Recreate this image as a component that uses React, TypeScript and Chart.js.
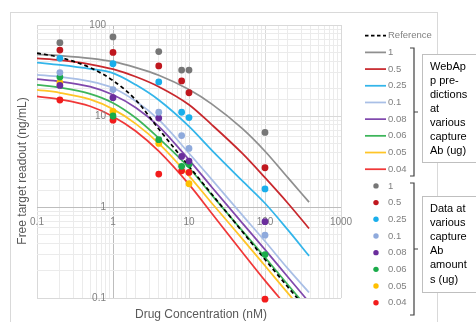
import React, { useEffect, useRef } from "react";
import { Chart, registerables } from "chart.js";

Chart.register(...registerables);

// ---- Data ----
const lineX = [0.1, 0.2, 0.5, 1, 2, 4, 10, 20, 50, 100, 200, 380];
const refLine = [49, 44, 34, 24.5, 15, 7.2, 2.8, 1.38, 0.54, 0.265, 0.132, 0.07];
const line1 = [47.7, 46, 43, 39.5, 34, 28, 19.5, 13.5, 7.3, 4.1, 2.1, 1.13];
const line05 = [43, 41, 37, 32.7, 27, 21, 13.3, 8, 3.9, 2.1, 1.1, 0.58];
const line025 = [38.7, 36.5, 33, 29.6, 22, 15, 7.7, 4.2, 1.95, 1.1, 0.56, 0.29];
const line01 = [28.4, 27, 24, 20.3, 14.5, 9.1, 3.9, 2.0, 0.82, 0.42, 0.21, 0.115];
const line008 = [25.4, 24, 21, 17.1, 12.3, 7.7, 3.3, 1.65, 0.67, 0.34, 0.17, 0.09];
const line006 = [22, 20.5, 17.5, 13.9, 9.5, 5.7, 2.7, 1.35, 0.55, 0.28, 0.14, 0.074];
const line005 = [19.4, 18, 15.2, 11.9, 8.2, 5.0, 2.2, 1.1, 0.45, 0.226, 0.113, 0.06];
const line004 = [16.4, 15.2, 12.8, 9.9, 6.8, 4.1, 1.77, 0.85, 0.32, 0.155, 0.078, 0.041];

const dataX = [0.2, 1, 4, 8, 10, 100];
const pts1 = [64, 74, 51, 32, 32, 6.6];
const pts05 = [53, 50, 35.5, 24.3, 18, 2.7];
const pts025 = [43, 37.5, 23.7, 11, 9.6, 1.58];
const pts01 = [30, 19.5, 11, 6.1, 4.4, 0.49];
const pts008 = [21.7, 15.9, 9.5, 3.6, 3.2, 0.69];
const pts006 = [26.8, 10, 5.5, 2.8, 2.95, 0.3];
const pts005: (number | null)[] = [23.3, 11.2, 5.0, null, 1.8, null];
const pts004 = [15, 9, 2.3, 2.5, 2.4, 0.097];

const yTickValues = [0.1, 1, 10, 100];
const yTickLabels = ["0.1", "1", "10", "100"];

const seriesLabels = ["1", "0.5", "0.25", "0.1", "0.08", "0.06", "0.05", "0.04"];
const lineColors = ["#8f8f8f", "#c8282d", "#33b5ea", "#a9bfe6", "#8049ad", "#3db55a", "#ffc527", "#f03838"];
const pointColors = ["#767676", "#c0171e", "#1aaeeb", "#8faadc", "#6a2d9c", "#1aab4a", "#ffc000", "#f21c1c"];
const lineSeries = [line1, line05, line025, line01, line008, line006, line005, line004];
const pointSeries = [pts1, pts05, pts025, pts01, pts008, pts006, pts005, pts004];

const xTitle = "Drug Concentration (nM)";
const yTitle = "Free target readout (ng/mL)";
const box1Lines = ["WebAp", "p pre-", "dictions", "at", "various", "capture", "Ab (ug)"];
const box2Lines = ["Data at", "various", "capture", "Ab", "amount", "s (ug)"];

const FONT = "'Liberation Sans', Arial, sans-serif";

const toXY = (xs: number[], ys: (number | null)[]) =>
  xs.map((x, i) => ({ x, y: ys[i] })).filter((p) => p.y !== null) as { x: number; y: number }[];

const isPow10 = (v: number) => {
  const l = Math.log10(v);
  return Math.abs(l - Math.round(l)) < 1e-9;
};

const gridColor = (c: any) => {
  const v = c.tick ? c.tick.value : null;
  if (v == null) return "#ebebeb";
  if (Math.abs(Math.log10(v)) < 1e-9) return "#bdbdbd";
  if (isPow10(v)) return "#d9d9d9";
  return "#ebebeb";
};

const tickLabel = (v: any) => {
  const n = Number(v);
  if (!isPow10(n)) return "";
  if (n < 1) return "0.1";
  return String(Math.round(n));
};

const decor = {
  id: "decor",
  beforeDraw(chart: any) {
    const ctx = chart.ctx;
    ctx.save();
    ctx.fillStyle = "#ffffff";
    ctx.fillRect(0, 0, chart.width, chart.height);
    ctx.strokeStyle = "#d9d9d9";
    ctx.lineWidth = 1;
    ctx.strokeRect(10.5, 12.5, 427, 330);
    ctx.restore();
  },
  afterDraw(chart: any) {
    const ctx = chart.ctx;
    const xs = chart.scales.x;
    const ys = chart.scales.y;
    ctx.save();
    // y tick labels, placed left of the x = 1 axis line
    ctx.fillStyle = "#808080";
    ctx.font = `10px ${FONT}`;
    ctx.textAlign = "right";
    ctx.textBaseline = "middle";
    const axisX = xs.getPixelForValue(1);
    yTickValues.forEach((v, i) => ctx.fillText(yTickLabels[i], axisX - 7, ys.getPixelForValue(v)));

    // axis titles
    ctx.fillStyle = "#595959";
    ctx.font = `12px ${FONT}`;
    ctx.textAlign = "center";
    ctx.textBaseline = "middle";
    ctx.fillText(xTitle, 201, 315);
    ctx.save();
    ctx.translate(23, 171);
    ctx.rotate(-Math.PI / 2);
    ctx.fillText(yTitle, 0, 0);
    ctx.restore();

    // legend
    const y0 = 35.7;
    const step = 16.69;
    ctx.font = `9.5px ${FONT}`;
    ctx.textAlign = "left";
    ctx.textBaseline = "middle";
    ctx.strokeStyle = "#000000";
    ctx.lineWidth = 1.75;
    ctx.setLineDash([3.5, 2.5]);
    ctx.beginPath();
    ctx.moveTo(365, y0);
    ctx.lineTo(386, y0);
    ctx.stroke();
    ctx.setLineDash([]);
    ctx.fillStyle = "#808080";
    ctx.fillText("Reference", 388, y0);
    seriesLabels.forEach((lab, i) => {
      const y = y0 + step * (i + 1);
      ctx.strokeStyle = lineColors[i];
      ctx.lineWidth = 1.75;
      ctx.beginPath();
      ctx.moveTo(365, y);
      ctx.lineTo(386, y);
      ctx.stroke();
      ctx.fillStyle = "#808080";
      ctx.fillText(lab, 388, y);
    });
    seriesLabels.forEach((lab, i) => {
      const y = y0 + step * (i + 9);
      ctx.fillStyle = pointColors[i];
      ctx.beginPath();
      ctx.arc(376, y, 2.7, 0, Math.PI * 2);
      ctx.fill();
      ctx.fillStyle = "#808080";
      ctx.fillText(lab, 388, y);
    });

    // brackets
    ctx.strokeStyle = "#404040";
    ctx.lineWidth = 1.2;
    const bracket = (top: number, bottom: number) => {
      ctx.beginPath();
      ctx.moveTo(410, top);
      ctx.lineTo(414, top);
      ctx.lineTo(414, bottom);
      ctx.lineTo(410, bottom);
      ctx.moveTo(414, (top + bottom) / 2);
      ctx.lineTo(418, (top + bottom) / 2);
      ctx.stroke();
    };
    bracket(48, 176);
    bracket(183, 315);

    // text boxes
    const box = (top: number, bottom: number, lines: string[], first: number) => {
      ctx.fillStyle = "#ffffff";
      ctx.fillRect(422.5, top + 0.5, 60, bottom - top);
      ctx.strokeStyle = "#bfbfbf";
      ctx.lineWidth = 1;
      ctx.strokeRect(422.5, top + 0.5, 60, bottom - top);
      ctx.fillStyle = "#000000";
      ctx.font = `11px ${FONT}`;
      ctx.textAlign = "left";
      ctx.textBaseline = "middle";
      lines.forEach((t, i) => ctx.fillText(t, 430, first + i * 14.1));
    };
    box(54, 162, box1Lines, 66.5);
    box(196, 292, box2Lines, 209);
    ctx.restore();
  },
};

export default function App() {
  const ref = useRef<HTMLCanvasElement>(null);
  useEffect(() => {
    const canvas = ref.current as HTMLCanvasElement;
    const datasets: any[] = [];
    datasets.push({
      label: "Reference",
      data: toXY(lineX, refLine),
      showLine: true,
      borderColor: "#000000",
      borderWidth: 1.75,
      borderDash: [4, 3],
      pointRadius: 0,
      cubicInterpolationMode: "monotone",
      order: 1,
    });
    lineSeries.forEach((s, i) => {
      datasets.push({
        label: seriesLabels[i],
        data: toXY(lineX, s),
        showLine: true,
        borderColor: lineColors[i],
        borderWidth: 1.75,
        pointRadius: 0,
        cubicInterpolationMode: "monotone",
        order: 2,
      });
    });
    pointSeries.forEach((s, i) => {
      datasets.push({
        label: "pts " + seriesLabels[i],
        data: toXY(dataX, s),
        showLine: false,
        backgroundColor: pointColors[i],
        borderWidth: 0,
        pointRadius: 3.4,
        pointBorderWidth: 0,
        clip: false,
        order: 0,
      });
    });

    const tickFont = { family: FONT, size: 10 };
    const chart = new Chart(canvas, {
      type: "scatter",
      data: { datasets },
      options: {
        animation: false,
        responsive: false,
        devicePixelRatio: 1,
        events: [],
        layout: { padding: { left: 37, right: 135, top: 25, bottom: 24 } },
        plugins: { legend: { display: false }, tooltip: { enabled: false } },
        scales: {
          x: {
            type: "logarithmic",
            min: 0.1,
            max: 1000,
            position: { y: 1 } as any,
            grid: { color: gridColor, lineWidth: 1, drawTicks: false },
            border: { display: false },
            ticks: {
              autoSkip: false,
              maxRotation: 0,
              minRotation: 0,
              padding: 9,
              color: "#808080",
              font: tickFont,
              callback: tickLabel,
            },
          },
          y: {
            type: "logarithmic",
            min: 0.1,
            max: 100,
            position: { x: 1 } as any,
            grid: { color: gridColor, lineWidth: 1, drawTicks: false },
            border: { display: false },
            ticks: {
              autoSkip: false,
              display: false,
              callback: tickLabel,
            },
          },
        },
      },
      plugins: [decor],
    });
    return () => chart.destroy();
  }, []);
  return (
    <div style={{ position: "absolute", left: 0, top: 0, width: 476, height: 322, background: "#fff" }}>
      <canvas ref={ref} width={476} height={322} style={{ display: "block", width: 476, height: 322 }} />
    </div>
  );
}
